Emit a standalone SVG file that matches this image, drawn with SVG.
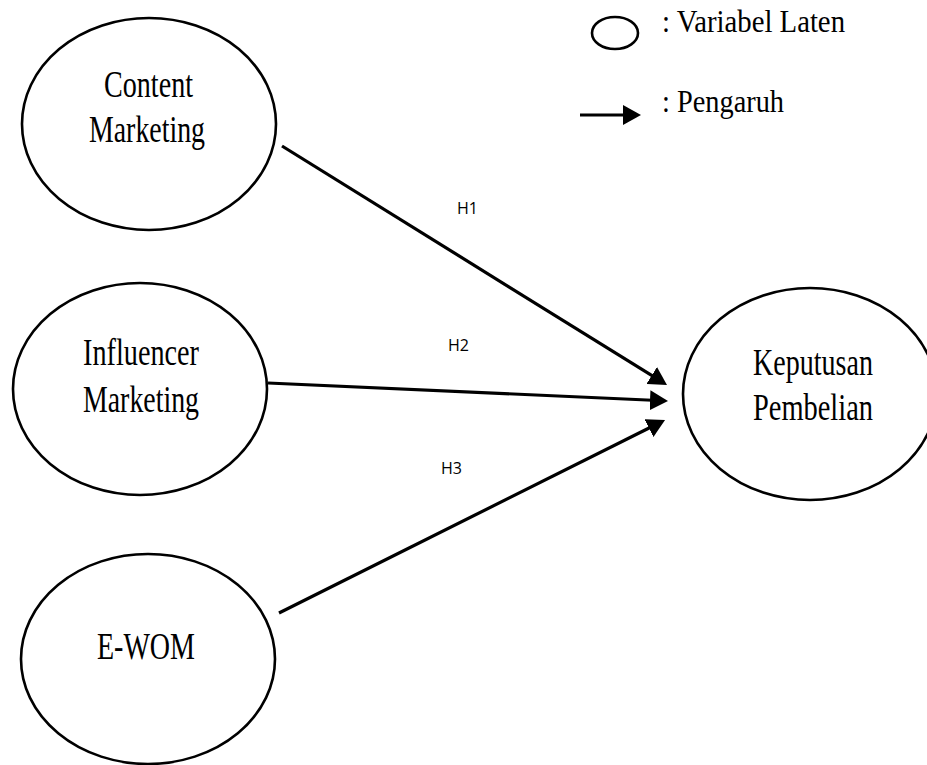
<svg xmlns="http://www.w3.org/2000/svg" width="927" height="765" viewBox="0 0 927 765">
<style>
.node ellipse{fill:#fff;stroke:#000;stroke-width:2.6}
.lbl{font-family:"Liberation Serif","Times New Roman",serif;font-size:37px;fill:#000;text-anchor:middle}
.leg{font-family:"Liberation Serif","Times New Roman",serif;font-size:32px;fill:#000}
.h{font-family:"Open Sans","Liberation Sans",sans-serif;font-size:17px;fill:#000}
.conn line{stroke:#000;stroke-width:3.2}
</style>
<defs>
<marker id="arr" markerUnits="userSpaceOnUse" markerWidth="18" markerHeight="20" refX="8" refY="10" orient="auto">
<path d="M0,0 L18,10 L0,20 z" fill="#000"/>
</marker>
</defs>
<rect width="927" height="765" fill="#fff"/>
<g id="legend">
<ellipse cx="615" cy="33" rx="23" ry="16" fill="none" stroke="#000" stroke-width="2.6"/>
<text class="leg" x="662" y="32" textLength="183" lengthAdjust="spacingAndGlyphs">: Variabel Laten</text>
<line x1="580" y1="115" x2="631" y2="115" stroke="#000" stroke-width="3.2" marker-end="url(#arr)"/>
<text class="leg" x="662" y="112" textLength="122" lengthAdjust="spacingAndGlyphs">: Pengaruh</text>
</g>
<g class="conn" id="connectors">
<line x1="282" y1="146" x2="658.5" y2="379.7" marker-end="url(#arr)"/>
<line x1="268" y1="383" x2="658" y2="400.5" marker-end="url(#arr)"/>
<line x1="279" y1="613" x2="656.1" y2="424.5" marker-end="url(#arr)"/>
<text class="h" x="457" y="214" textLength="21" lengthAdjust="spacingAndGlyphs">H1</text>
<text class="h" x="448" y="351" textLength="21" lengthAdjust="spacingAndGlyphs">H2</text>
<text class="h" x="441" y="474" textLength="21" lengthAdjust="spacingAndGlyphs">H3</text>
</g>
<g class="node" id="content-marketing">
<ellipse cx="149" cy="124" rx="127" ry="106"/>
<text class="lbl" x="148.5" y="97" textLength="89" lengthAdjust="spacingAndGlyphs">Content</text>
<text class="lbl" x="147" y="142" textLength="116" lengthAdjust="spacingAndGlyphs">Marketing</text>
</g>
<g class="node" id="influencer-marketing">
<ellipse cx="140" cy="389" rx="127" ry="106"/>
<text class="lbl" x="141" y="365" textLength="116" lengthAdjust="spacingAndGlyphs">Influencer</text>
<text class="lbl" x="141" y="412" textLength="116" lengthAdjust="spacingAndGlyphs">Marketing</text>
</g>
<g class="node" id="e-wom">
<ellipse cx="148" cy="659" rx="127" ry="105"/>
<text class="lbl" x="146" y="659" textLength="98" lengthAdjust="spacingAndGlyphs">E-WOM</text>
</g>
<g class="node" id="keputusan-pembelian">
<ellipse cx="810" cy="394" rx="127" ry="106"/>
<text class="lbl" x="813" y="375" textLength="120" lengthAdjust="spacingAndGlyphs">Keputusan</text>
<text class="lbl" x="813" y="420" textLength="120" lengthAdjust="spacingAndGlyphs">Pembelian</text>
</g>
</svg>
